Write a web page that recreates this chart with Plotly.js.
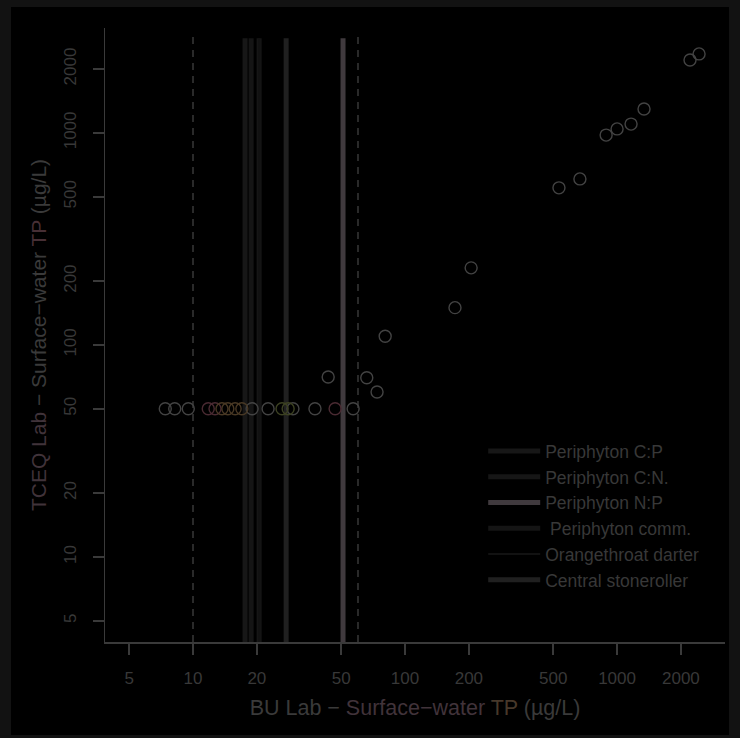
<!DOCTYPE html>
<html>
<head>
<meta charset="utf-8">
<script src="https://cdn.plot.ly/plotly-3.0.1.min.js"></script>
<style>
  html, body { margin: 0; padding: 0; background: #121212; }
  #chart { position: absolute; left: 11px; top: 7px; width: 718px; height: 728px; }
</style>
</head>
<body>
<div id="chart"></div>
<script>
// Paired surface-water TP results (µg/L): BU lab (x) vs TCEQ lab (y)
const buGrey   = [7.4, 8.2, 9.5, 19.0, 22.6, 29.6, 37.6, 56.9, 43.4, 66, 73.8, 80.6, 172, 205, 532, 668, 888, 1000, 1164, 1340, 2208, 2436];
const tceqGrey = [50, 50, 50, 50, 50, 50, 50, 50, 70.6, 70, 60, 110, 150, 231, 551, 607, 977, 1045, 1101, 1296, 2208, 2359];
const buRed    = [11.8, 12.7, 46.8];
const tceqRed  = [50, 50, 50];
const buOrange   = [13.7, 14.6, 15.8, 17.0];
const tceqOrange = [50, 50, 50, 50];
const buOlive    = [26.3, 28.1];
const tceqOlive  = [50, 50];

// TP thresholds (µg/L)
const thresholdNames  = ["Periphyton C:P", "Periphyton C:N.", "Periphyton N:P", " Periphyton comm.", "Orangethroat darter", "Central stoneroller"];
const thresholdValues = [17.6, 20.5, 51, 18.8, 20.5, 27.5];

// dashed reference lines (µg/L)
const referenceValues = [10, 60];

// axis ticks
const tickValues = [5, 10, 20, 50, 100, 200, 500, 1000, 2000];

// ---- styling ----
const xRange = [0.585, 3.509];
const yRange = [0.599, 3.495];
const yBottom = Math.pow(10, yRange[0]);
const threshTop = 2800;
const refTop = 2950;

const thresholdStyles = [
  { color: "#171717", width: 5 },
  { color: "#161616", width: 5 },
  { color: "#403a3e", width: 5 },
  { color: "#151515", width: 5 },
  { color: "#121212", width: 2 },
  { color: "#202020", width: 5 }
];

const traces = [];

referenceValues.forEach(v => {
  traces.push({
    type: "scatter", mode: "lines",
    x: [v, v], y: [yBottom, refTop],
    line: { color: "#383838", width: 1.5, dash: "7px,6px" },
    showlegend: false, hoverinfo: "skip"
  });
});

thresholdNames.forEach((name, i) => {
  traces.push({
    type: "scatter", mode: "lines",
    name: name,
    x: [thresholdValues[i], thresholdValues[i]], y: [yBottom, threshTop],
    line: { color: thresholdStyles[i].color, width: thresholdStyles[i].width },
    hoverinfo: "x"
  });
});

function points(xs, ys, color) {
  return {
    type: "scatter", mode: "markers",
    x: xs, y: ys,
    marker: { symbol: "circle-open", size: 12, color: color, line: { width: 1.4, color: color } },
    showlegend: false
  };
}
traces.push(points(buGrey, tceqGrey, "#434343"));
traces.push(points(buRed, tceqRed, "#4a2a32"));
traces.push(points(buOrange, tceqOrange, "#483824"));
traces.push(points(buOlive, tceqOlive, "#3c4122"));

const axisColor = "#3a3a3a";
const textColor = "#383838";
const font = "Liberation Sans, Arial, sans-serif";

const titleText = "BU Lab \u2212 <span style='color:#41333a'>Surface\u2212water</span> <span style='color:#47382a'>TP</span> (\u00b5g/L)";
const yTitleText = "<span style='color:#40333a'>TCEQ Lab</span> \u2212 Surface\u2212water <span style='color:#472f35'>TP</span> (\u00b5g/L)";

const layout = {
  width: 718, height: 728,
  paper_bgcolor: "#000000", plot_bgcolor: "#000000",
  margin: { l: 94, r: 4, t: 21, b: 93 },
  font: { family: font, color: textColor },
  showlegend: true,
  legend: {
    x: 0.61, y: 0.34, xanchor: "left", yanchor: "top",
    bgcolor: "rgba(0,0,0,0)",
    font: { size: 17.5, color: textColor, family: font },
    itemwidth: 52, tracegroupgap: 0
  },
  xaxis: {
    type: "log", range: xRange,
    tickvals: tickValues, ticktext: tickValues.map(String),
    ticks: "outside", ticklen: 11, tickwidth: 1.5, tickcolor: axisColor,
    showline: true, linecolor: axisColor, linewidth: 1.5,
    showgrid: false, zeroline: false,
    tickfont: { size: 17, color: textColor },
    ticklabelstandoff: 9,
    title: { text: titleText, font: { size: 21.5, color: "#3a3a3a" }, standoff: 13 }
  },
  yaxis: {
    type: "log", range: yRange,
    tickvals: tickValues, ticktext: tickValues.map(String),
    tickangle: -90,
    ticks: "outside", ticklen: 11, tickwidth: 1.5, tickcolor: axisColor,
    showline: true, linecolor: axisColor, linewidth: 1.5,
    showgrid: false, zeroline: false,
    tickfont: { size: 17, color: textColor },
    ticklabelstandoff: 10,
    title: { text: yTitleText, font: { size: 21, color: "#3a3a3a" }, standoff: 8 }
  }
};

Plotly.newPlot("chart", traces, layout, { displayModeBar: false, staticPlot: true });
</script>
</body>
</html>
